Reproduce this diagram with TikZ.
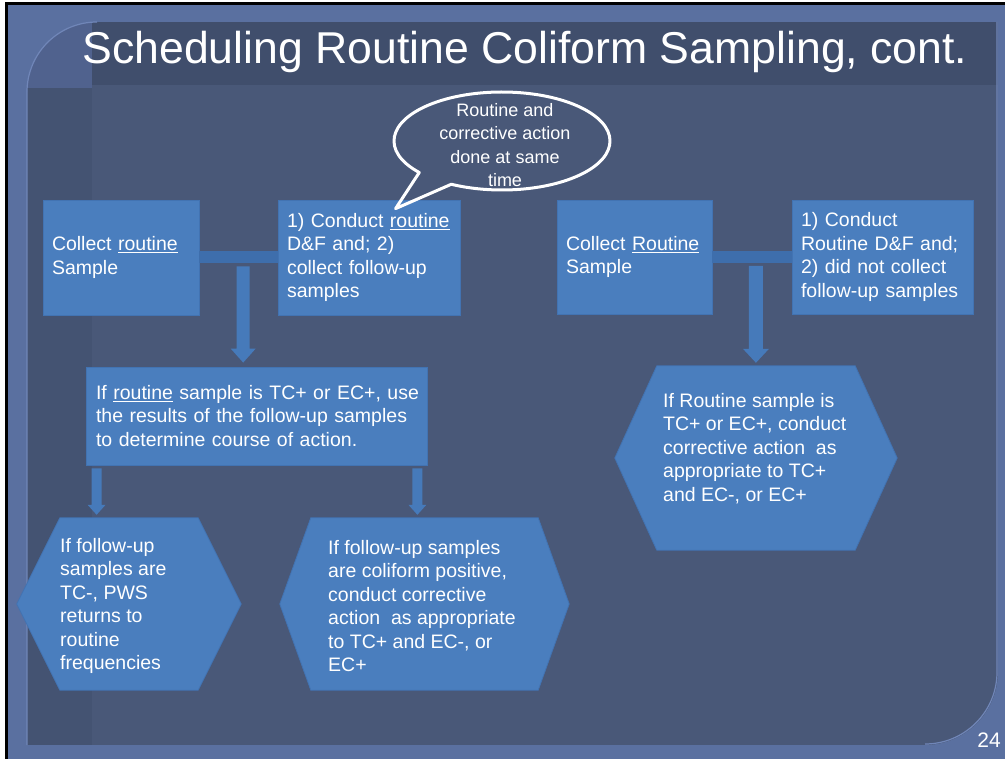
\documentclass[tikz,border=0pt]{standalone}
\usepackage{fontspec}
\setmainfont{Liberation Sans}
\usetikzlibrary{calc,positioning}

\definecolor{slideband}{RGB}{90,112,160}
\definecolor{slidebg}{RGB}{73,88,120}
\definecolor{slidestrip}{RGB}{68,83,114}
\definecolor{titlebar}{RGB}{64,78,108}
\definecolor{cornerfill}{RGB}{80,98,142}
\definecolor{edgeline}{RGB}{112,134,184}
\definecolor{boxblue}{RGB}{74,126,190}
\definecolor{boxedge}{RGB}{66,115,178}
\definecolor{barblue}{RGB}{62,110,172}
\definecolor{arrowblue}{RGB}{70,122,186}

% block arrow pointing down: start, end, half shaft, half head, head length
\newcommand{\blockdown}[5]{%
  \fill[arrowblue] let \p1=#1, \p2=#2 in
    (\x1-#3,\y1) -- (\x1+#3,\y1) -- (\x1+#3,\y2+#5) -- (\x1+#4,\y2+#5)
    -- (\x1,\y2) -- (\x1-#4,\y2+#5) -- (\x1-#3,\y2+#5) -- cycle;}
% hexagon round a holder node: node name, inset
\newcommand{\hexfill}[2]{%
  \filldraw[boxblue, draw=boxedge, line width=0.8]
    (#1.west) -- ([xshift=#2]#1.north west) -- ([xshift=-#2]#1.north east)
    -- (#1.east) -- ([xshift=-#2]#1.south east) -- ([xshift=#2]#1.south west) -- cycle;}

\tikzset{
  box/.style={fill=boxblue, draw=boxedge, line width=0.8, inner xsep=9, inner ysep=0,
    align=left, text=white, font=\fontsize{19.5}{23.4}\selectfont},
  hexholder/.style={inner sep=0, draw=none},
  hextxt/.style={inner sep=0, align=left, text=white, font=\fontsize{19.5}{23.4}\selectfont},
  bar/.style={draw=barblue, line width=12}
}

\begin{document}
\begin{tikzpicture}[x=1pt, y=-1pt]
\useasboundingbox (0,0) rectangle (1005,759);

% slide background
\fill[white] (0,0) rectangle (1005,759);
\fill[slideband] (6,4) rectangle (1005,759);
\draw[black, line width=3] (6,759) -- (6,4) -- (1005,4);
\fill[slidebg] (27,22) rectangle (998,745);
\fill[slidestrip] (27,88) rectangle (92,745);
\fill[titlebar] (92,22) rectangle (998,85);
\fill[cornerfill] (27,22) rectangle (92,88);
\fill[slideband] (27,22) -- (97,22) arc[start angle=-90, end angle=-180, radius=70] -- cycle;
\draw[edgeline, line width=1.2] (97,22) arc[start angle=-90, end angle=-180, radius=70] -- (27,745);
\fill[slideband] (998,672) arc[start angle=0, end angle=90, radius=73] -- (998,745) -- cycle;
\draw[edgeline, line width=1.2] (997,22) -- (997,672) arc[start angle=0, end angle=90, radius=72];

% title
\node[anchor=base, text=white, font=\fontsize{44.6}{50}\selectfont] (title) at (525,64)
  {Scheduling Routine Coliform Sampling, cont.};

% left branch
\node[box, minimum width=156, minimum height=115, text width=138] (A) at (121,257.5)
  {Collect \underline{routine}\\Sample};
\node[box, minimum width=182, minimum height=115, text width=164] (B) at (369,257.5)
  {1) Conduct \underline{routine}\\D\&F and; 2)\\collect follow-up\\samples};
\node[box, minimum width=341, minimum height=98, text width=321, inner xsep=10] (C) at (256.5,416)
  {\mbox{If \underline{routine} sample is TC+ or EC+, use}\\the results of the follow-up samples\\to determine course of action.};

\draw[bar] (A.east) -- (B.west);
\coordinate (ABjoin) at ($(A.east)!0.56!(B.west)$);
\blockdown{($(ABjoin)+(0,9)$)}{($(ABjoin |- C.north)+(0,-4)$)}{6.5pt}{12.5pt}{14pt}

\node[hexholder, minimum width=224, minimum height=172] (D) at (129,604) {};
\node[hexholder, minimum width=289, minimum height=172] (E) at (424.5,604) {};
\hexfill{D}{43}
\hexfill{E}{31}
\coordinate (CD) at ($(C.south west)+(11,0)$);
\coordinate (CE) at ($(C.south east)+(-10,0)$);
\blockdown{($(CD)+(0,3)$)}{($(CD |- D.north)+(0,-3)$)}{5pt}{9pt}{10pt}
\blockdown{($(CE)+(0,3)$)}{($(CE |- E.north)+(0,-3)$)}{5pt}{9pt}{10pt}

\node[hextxt, anchor=west] (Dtxt) at (60,606)
  {If follow-up\\samples are\\TC-, PWS\\returns to\\routine\\frequencies};
\node[hextxt, anchor=west] (Etxt) at (328,606)
  {If follow-up samples\\are coliform positive,\\conduct corrective\\action~ as appropriate\\to TC+ and EC-, or\\EC+};

% right branch
\node[box, minimum width=155, minimum height=114, text width=137] (F) at (634.5,257)
  {Collect \underline{Routine}\\Sample};
\node[box, minimum width=181, minimum height=114, text width=163] (G) at (882.5,257)
  {1) Conduct\\Routine D\&F and;\\2) did not collect\\follow-up samples};
\draw[bar] (F.east) -- (G.west);
\node[hexholder, minimum width=282, minimum height=184] (H) at (756,458) {};
\hexfill{H}{42}
\coordinate (FGjoin) at ($(F.east)!0.55!(G.west)$);
\blockdown{($(FGjoin)+(0,9)$)}{($(FGjoin |- H.north)+(0,-3)$)}{7pt}{13pt}{14pt}
\node[hextxt, anchor=west] (Htxt) at (663,448.5)
  {If Routine sample is\\TC+ or EC+, conduct\\corrective action~ as\\appropriate to TC+\\and EC-, or EC+};

% callout
\node[inner sep=0, align=center, text=white, font=\fontsize{18}{23.4}\selectfont] (bubtxt) at (505,145)
  {Routine and\\corrective action\\done at same\\time};
\coordinate (bubc) at (502,141);
\coordinate (tailtip) at ($(B.north west)+(118,9)$);
\draw[white, line width=3, line join=round] (tailtip) -- ($(bubc)+(140:108 and 49)$)
  arc[start angle=140, end angle=478, x radius=108, y radius=49] -- cycle;

% page number
\node[text=white, font=\fontsize{21}{24}\selectfont] (pnum) at (989,740) {24};
\end{tikzpicture}
\end{document}
